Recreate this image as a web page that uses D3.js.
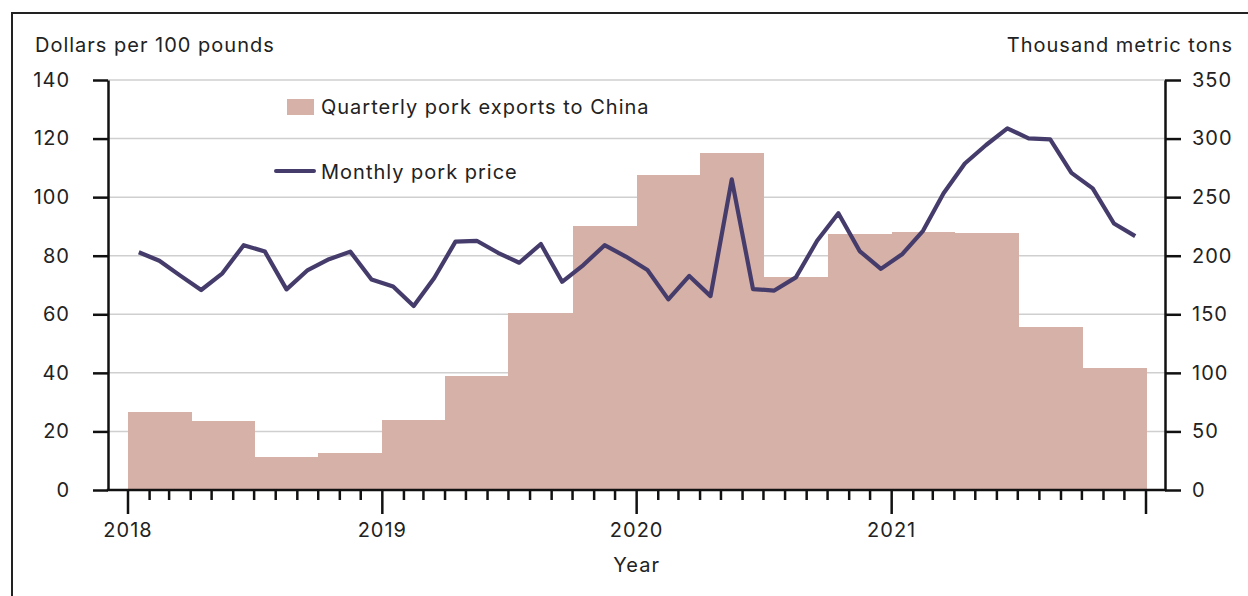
<!DOCTYPE html>
<html>
<head>
<meta charset="utf-8">
<script src="https://cdn.jsdelivr.net/npm/d3@7"></script>
<style>
  html, body { margin: 0; padding: 0; background: #fff; }
  svg { display: block; }
  text { font-family: Inter, "Noto Sans", sans-serif; fill: #222; letter-spacing: 1px; }
</style>
</head>
<body>
<svg id="chart" width="1248" height="596"></svg>
<script>
// ---- Data ----
const quarterStarts = ["2018-01","2018-04","2018-07","2018-10","2019-01","2019-04","2019-07","2019-10",
                       "2020-01","2020-04","2020-07","2020-10","2021-01","2021-04","2021-07","2021-10"];
const exportsChina = [67, 59, 28, 32, 60, 97, 151, 225, 269, 288, 182, 218.5, 220.5, 219, 139, 104];

const months = ["2018-01","2018-02","2018-03","2018-04","2018-05","2018-06","2018-07","2018-08","2018-09","2018-10","2018-11","2018-12",
                "2019-01","2019-02","2019-03","2019-04","2019-05","2019-06","2019-07","2019-08","2019-09","2019-10","2019-11","2019-12",
                "2020-01","2020-02","2020-03","2020-04","2020-05","2020-06","2020-07","2020-08","2020-09","2020-10","2020-11","2020-12",
                "2021-01","2021-02","2021-03","2021-04","2021-05","2021-06","2021-07","2021-08","2021-09","2021-10","2021-11","2021-12"];
const porkPrice = [81.2, 78.3, 73.3, 68.3, 74.0, 83.6, 81.4, 68.5, 75.1, 78.8, 81.4, 71.9,
                   69.5, 62.8, 72.4, 84.8, 85.1, 81.0, 77.6, 84.0, 71.1, 76.8, 83.6, 79.7,
                   75.1, 65.1, 73.1, 66.2, 106.1, 68.6, 68.1, 72.6, 85.1, 94.5, 81.6, 75.5,
                   80.6, 88.5, 101.3, 111.5, 117.8, 123.5, 120.1, 119.7, 108.3, 103.0, 91.0, 86.7];

const leftTicks = [0, 20, 40, 60, 80, 100, 120, 140];
const rightTicks = [0, 50, 100, 150, 200, 250, 300, 350];
const yearTicks = ["2018", "2019", "2020", "2021", "2022"];
const yearLabels = ["2018", "2019", "2020", "2021"];

const leftTitle = "Dollars per 100 pounds";
const rightTitle = "Thousand metric tons";
const xTitle = "Year";
const legendBar = "Quarterly pork exports to China";
const legendLine = "Monthly pork price";

// ---- Layout ----
const svg = d3.select("#chart");
const parseM = d3.utcParse("%Y-%m");
const parseY = d3.utcParse("%Y");
const plotLeft = 108, plotRight = 1165, plotTop = 80, plotBottom = 490;

const x = d3.scaleUtc().domain([parseY("2018"), parseY("2022")]).range([128, 1146]);
const yL = d3.scaleLinear().domain([0, 140]).range([plotBottom, plotTop]);
const yR = d3.scaleLinear().domain([0, 350]).range([plotBottom, plotTop]);

const barColor = "#d6b1a7";
const lineColor = "#463c6b";
const axisColor = "#111";
const fontSize = 20;

// frame
svg.append("path")
  .attr("d", "M12,600 L12,13 L1260,13")
  .attr("fill", "none").attr("stroke", "#222").attr("stroke-width", 2);

// gridlines
svg.append("g").selectAll("line")
  .data(leftTicks.filter(d => d > 0))
  .join("line")
  .attr("x1", plotLeft).attr("x2", plotRight)
  .attr("y1", d => yL(d)).attr("y2", d => yL(d))
  .attr("stroke", "#cfcfcf").attr("stroke-width", 1.5);

// bars
svg.append("g").attr("shape-rendering", "crispEdges").selectAll("rect")
  .data(quarterStarts.map((q, i) => ({ start: parseM(q), v: exportsChina[i] })))
  .join("rect")
  .attr("x", d => Math.round(x(d.start)))
  .attr("width", d => Math.round(x(d3.utcMonth.offset(d.start, 3))) - Math.round(x(d.start)) + 0.5)
  .attr("y", d => yR(d.v))
  .attr("height", d => yR(0) - yR(d.v))
  .attr("fill", barColor);

// line
const pts = months.map((m, i) => {
  const s = parseM(m), e = d3.utcMonth.offset(s, 1);
  return { t: new Date((+s + +e) / 2), v: porkPrice[i] };
});
svg.append("path")
  .datum(pts)
  .attr("fill", "none")
  .attr("stroke", lineColor)
  .attr("stroke-width", 4.2)
  .attr("stroke-linejoin", "round")
  .attr("d", d3.line().x(d => x(d.t)).y(d => yL(d.v)));

// left axis
const gL = svg.append("g").attr("transform", `translate(${plotLeft},0)`)
  .call(d3.axisLeft(yL).tickValues(leftTicks).tickSize(15).tickPadding(23).tickSizeOuter(0));
// right axis
const gR = svg.append("g").attr("transform", `translate(${plotRight},0)`)
  .call(d3.axisRight(yR).tickValues(rightTicks).tickSize(16).tickPadding(11).tickSizeOuter(0));
[gL, gR].forEach(g => {
  g.select(".domain").attr("stroke", axisColor).attr("stroke-width", 2.5);
  g.selectAll(".tick line").attr("stroke", axisColor).attr("stroke-width", 2.5);
  g.selectAll(".tick text").attr("font-size", fontSize).attr("fill", "#222")
    .style("font-family", "Inter, 'Noto Sans', sans-serif");
});

// x axis: baseline
svg.append("line")
  .attr("x1", plotLeft - 1.25).attr("x2", plotRight + 1.25)
  .attr("y1", plotBottom).attr("y2", plotBottom)
  .attr("stroke", axisColor).attr("stroke-width", 2.5);

const monthTicks = d3.utcMonth.range(parseY("2018"), d3.utcMonth.offset(parseY("2022"), 1));
const yearSet = new Set(yearTicks);
svg.append("g").selectAll("line")
  .data(monthTicks)
  .join("line")
  .attr("x1", d => x(d)).attr("x2", d => x(d))
  .attr("y1", plotBottom)
  .attr("y2", d => d.getUTCMonth() === 0 && yearSet.has(String(d.getUTCFullYear())) ? plotBottom + 24 : plotBottom + 10)
  .attr("stroke", axisColor).attr("stroke-width", 2.5);

svg.append("g").selectAll("text")
  .data(yearLabels)
  .join("text")
  .attr("x", d => x(parseY(d)))
  .attr("y", 537)
  .attr("text-anchor", "middle")
  .attr("font-size", fontSize)
  .text(d => d);

svg.append("text").attr("x", x(parseY("2020"))).attr("y", 572)
  .attr("text-anchor", "middle").attr("font-size", fontSize).text(xTitle);

// axis titles
svg.append("text").attr("x", 35).attr("y", 52).attr("font-size", fontSize).text(leftTitle);
svg.append("text").attr("x", 1233).attr("y", 52).attr("text-anchor", "end").attr("font-size", fontSize).text(rightTitle);

// legend
svg.append("rect").attr("x", 287).attr("y", 99).attr("width", 27).attr("height", 16).attr("fill", barColor);
svg.append("text").attr("x", 321).attr("y", 114).attr("font-size", fontSize).text(legendBar);
svg.append("line").attr("x1", 276).attr("x2", 314).attr("y1", 171).attr("y2", 171)
  .attr("stroke", lineColor).attr("stroke-width", 4).attr("stroke-linecap", "round");
svg.append("text").attr("x", 321).attr("y", 179).attr("font-size", fontSize).text(legendLine);
</script>
</body>
</html>
